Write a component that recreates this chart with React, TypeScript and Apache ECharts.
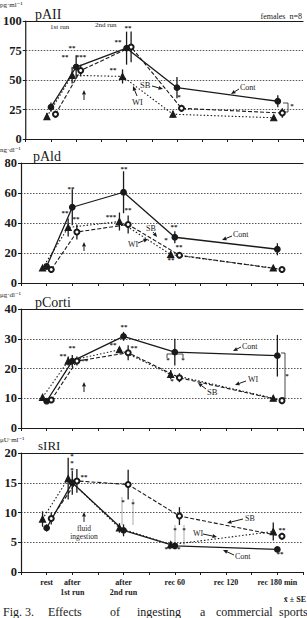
import React, { useEffect, useRef } from "react";
import * as echarts from "echarts";

// time points (x index on the axis): rest, after 1st run, after 2nd run, rec 60, rec 180
const timePoints = [1, 2, 4, 6, 10];
const xTickLabels: Record<number, string> = {
  1: "rest",
  2: "after\n1st run",
  4: "after\n2nd run",
  6: "rec 60",
  8: "rec 120",
  10: "rec 180 min",
};

// pAII (pg·ml-1)
const pAII_Cont = [27, 61, 77, 43.5, 32];
const pAII_Cont_SE = [4, 10, 14, 9, 5];
const pAII_WI = [19, 54, 53, 21, 18];
const pAII_WI_SE = [3, 7, 6, 3, 2];
const pAII_SB = [21, 58, 78, 26, 22];
const pAII_SB_SE = [3, 5, 13, 3, 4];

// pAld (ng·dl-1)
const pAld_Cont = [11, 50.5, 60.5, 30.5, 22.5];
const pAld_Cont_SE = [1.5, 12, 14, 4, 4];
const pAld_WI = [10, 37, 41, 19, 10];
const pAld_WI_SE = [1, 6, 6, 2, 1];
const pAld_SB = [9, 34, 39, 18.5, 9];
const pAld_SB_SE = [1, 5, 6, 2, 1];

// pCorti (µg·dl-1)
const pCorti_Cont = [9, 22.5, 30.8, 25.5, 24.3];
const pCorti_Cont_SE = [0.5, 2, 1.5, 4.5, 7];
const pCorti_WI = [10.3, 22.5, 26.3, 18, 10];
const pCorti_WI_SE = [0.5, 1.5, 1, 1.5, 0.8];
const pCorti_SB = [9.4, 22.5, 25.3, 16.9, 9.2];
const pCorti_SB_SE = [0.5, 1.5, 2.5, 1.5, 0.5];

// sIRI (µU·ml-1)
const sIRI_Cont = [7.4, 15, 7.0, 4.4, 3.8];
const sIRI_Cont_SE = [0.6, 2, 1, 0.5, 0.4];
const sIRI_WI = [8.9, 15.7, 7.4, 4.6, 6.8];
const sIRI_WI_SE = [1.3, 3.5, 0.8, 0.5, 1.5];
const sIRI_SB = [9, 15.3, 14.7, 9.4, 6.0];
const sIRI_SB_SE = [1, 2, 2.5, 1.5, 0.6];

const WI_OFF = -0.16;
const SB_OFF = 0.18;

const panels = [
  { top: 21, height: 118, max: 100, interval: 25, Cont: pAII_Cont, ContSE: pAII_Cont_SE, WI: pAII_WI, WISE: pAII_WI_SE, SB: pAII_SB, SBSE: pAII_SB_SE },
  { top: 163, height: 120, max: 80, interval: 20, Cont: pAld_Cont, ContSE: pAld_Cont_SE, WI: pAld_WI, WISE: pAld_WI_SE, SB: pAld_SB, SBSE: pAld_SB_SE },
  { top: 309, height: 119, max: 40, interval: 10, Cont: pCorti_Cont, ContSE: pCorti_Cont_SE, WI: pCorti_WI, WISE: pCorti_WI_SE, SB: pCorti_SB, SBSE: pCorti_SB_SE },
  { top: 453, height: 119, max: 20, interval: 5, Cont: sIRI_Cont, ContSE: sIRI_Cont_SE, WI: sIRI_WI, WISE: sIRI_WI_SE, SB: sIRI_SB, SBSE: sIRI_SB_SE },
];

const SERIF = "'Liberation Serif', 'DejaVu Serif', serif";
const INK = "#1a1a1a";

function txt(x: number, y: number, s: string, size: number, opts: any = {}) {
  return {
    type: "text",
    x,
    y,
    style: {
      text: s,
      fontFamily: SERIF,
      fontSize: size,
      fontWeight: opts.bold ? "bold" : "normal",
      fill: INK,
      align: opts.align || "left",
      verticalAlign: "middle",
      lineHeight: opts.lineHeight,
    },
  };
}

function arrow(x1: number, y1: number, x2: number, y2: number) {
  const ang = Math.atan2(y2 - y1, x2 - x1);
  const L = 4.5, W = 2;
  const bx = x2 - L * Math.cos(ang), by = y2 - L * Math.sin(ang);
  const px = -Math.sin(ang) * W, py = Math.cos(ang) * W;
  return [
    { type: "line", shape: { x1, y1, x2: bx, y2: by }, style: { stroke: INK, lineWidth: 1 } },
    { type: "polygon", shape: { points: [[x2, y2], [bx + px, by + py], [bx - px, by - py]] }, style: { fill: INK } },
  ];
}

function poly(points: number[][], color = INK, w = 0.8) {
  return { type: "polyline", shape: { points }, style: { stroke: color, lineWidth: w, fill: "none" } };
}

const stars: [number, number, string][] = [
  // pAII
  [72, 48, "**"], [65, 57, "**"], [81, 57, "***"], [128, 28, "**"], [118, 42, "**"], [113, 70, "**"], [179, 97, "*"], [292, 106, "*"],
  // pAld
  [71, 189, "**"], [65, 213, "**"], [76, 219, "**"], [124, 169, "**"], [111, 217, "***"], [128, 210, "**"],
  [174, 227, "**"], [166, 240, "*"], [179, 247, "**"], [171, 260, "**"],
  // pCorti
  [124, 327, "**"], [72, 348, "**"], [63, 356, "**"], [83, 361, "***"], [113, 345, "**"], [134, 348, "**"],
  [168, 360, "*"], [183, 360, "*"], [172, 381, "*"], [287, 376, "*"],
  // sIRI
  [84, 477, "**"], [123, 502, "*"], [133, 504, "*"],
  [175, 530, "*"], [184, 530, "*"], [168, 549, "**"], [177, 549, "**"], [282, 530, "**"], [280, 554, "**"],
];

function buildOption() {
  const grid: any[] = [];
  const xAxis: any[] = [];
  const yAxis: any[] = [];
  const series: any[] = [];

  panels.forEach((p, i) => {
    const last = i === panels.length - 1;
    grid.push({ left: 21, right: 4, top: p.top, height: p.height });
    xAxis.push({
      type: "value",
      gridIndex: i,
      min: 0,
      max: 11,
      interval: 1,
      axisLine: { show: true, lineStyle: { color: INK, width: 1.2 } },
      axisTick: { show: true, length: 3, lineStyle: { color: INK } },
      splitLine: { show: false },
      axisLabel: {
        show: last,
        formatter: (v: number) => xTickLabels[v] || "",
        fontFamily: SERIF,
        fontWeight: "bold",
        fontSize: 8,
        lineHeight: 10,
        color: INK,
        margin: 5,
      },
    });
    yAxis.push({
      type: "value",
      gridIndex: i,
      min: 0,
      max: p.max,
      interval: p.interval,
      axisLine: { show: true, lineStyle: { color: INK, width: 1.2 } },
      axisTick: { show: true, length: 3, lineStyle: { color: INK } },
      axisLabel: { fontFamily: SERIF, fontWeight: "bold", fontSize: 12.5, color: INK, margin: 4 },
      splitLine: { show: true, lineStyle: { color: "#555", type: [1.5, 1.5], width: 1.2 } },
    });
  });
  // top borders
  panels.forEach((p, i) => {
    xAxis.push({
      type: "value",
      gridIndex: i,
      position: "top",
      min: 0,
      max: 11,
      axisLine: { show: true, onZero: false, lineStyle: { color: INK, width: 1.2 } },
      axisTick: { show: false },
      axisLabel: { show: false },
      splitLine: { show: false },
    });
  });

  const errRender = (params: any, api: any) => {
    const x = api.value(0), y = api.value(1), e = api.value(2);
    const a = api.coord([x, y + e]);
    const b = api.coord([x, y - e]);
    return { type: "line", shape: { x1: a[0], y1: a[1], x2: b[0], y2: b[1] }, style: { stroke: INK, lineWidth: 1.3 } };
  };

  panels.forEach((p, i) => {
    const groups = [
      { name: "WI", vals: p.WI, se: p.WISE, off: WI_OFF, symbol: "triangle", size: 6, line: { type: [1.5, 2], width: 1.1 } },
      { name: "SB", vals: p.SB, se: p.SBSE, off: SB_OFF, symbol: "emptyCircle", size: 5, line: { type: [4, 2], width: 1.1 } },
      { name: "Cont", vals: p.Cont, se: p.ContSE, off: 0, symbol: "circle", size: 5.5, line: { type: "solid", width: 1.3 } },
    ];
    groups.forEach((g) => {
      const pts = g.vals.map((v, k) => [timePoints[k] + g.off, v]);
      series.push({
        type: "custom",
        xAxisIndex: i,
        yAxisIndex: i,
        renderItem: errRender,
        data: g.vals.map((v, k) => [timePoints[k] + g.off, v, g.se[k]]),
        encode: { x: 0, y: 1 },
        z: 2,
        clip: false,
        silent: true,
      });
      series.push({
        type: "line",
        name: g.name,
        xAxisIndex: i,
        yAxisIndex: i,
        data: pts,
        symbol: g.symbol,
        symbolSize: g.size,
        showAllSymbol: true,
        lineStyle: { color: INK, width: g.line.width, type: g.line.type },
        itemStyle: { color: INK, borderColor: INK, borderWidth: 1.2 },
        z: 3,
        silent: true,
      });
    });
  });

  const graphic: any[] = [
    // panel titles and units
    txt(0, 5, "pg·ml⁻¹", 7),
    txt(35, 14, "pAII", 14),
    txt(302, 16, "females  n=8", 8, { align: "right" }),
    txt(50, 27, "1st run", 7),
    txt(95, 25, "2nd run", 7),
    txt(0, 150, "ng·dl⁻¹", 7),
    txt(33, 156, "pAld", 14),
    txt(0, 295, "μg·dl⁻¹", 7),
    txt(35, 302, "pCorti", 14),
    txt(0, 440, "μU·ml⁻¹", 7),
    txt(38, 445, "sIRI", 13),
    // series labels
    txt(240, 87, "Cont", 8),
    txt(140, 85, "SB", 8.5),
    txt(132, 102, "WI", 8.5),
    txt(233, 234, "Cont", 8),
    txt(146, 228, "SB", 8),
    txt(128, 244, "WI", 8),
    txt(242, 346, "Cont", 8),
    txt(248, 379, "WI", 8),
    txt(207, 392, "SB", 8.5),
    txt(245, 518, "SB", 8),
    txt(193, 533, "WI", 8),
    txt(235, 556, "Cont", 8),
    // stacked significance marks in sIRI after 1st run
    { type: "text", x: 72, y: 463, style: { text: "*\n*\n*", fontFamily: SERIF, fontSize: 7, fontWeight: "bold", lineHeight: 7, fill: INK, align: "center", verticalAlign: "middle" } },
    // fluid ingestion
    { type: "text", x: 84, y: 532, style: { text: "fluid\ningestion", fontFamily: SERIF, fontSize: 7.5, lineHeight: 8, fill: INK, align: "center", verticalAlign: "middle" } },
    txt(306, 599, "x̄ ± SE", 8, { align: "right", bold: true }),
    // caption
    txt(3, 612, "Fig.", 12),
    txt(25, 612, "3.", 12),
    txt(48, 612, "Effects", 12),
    txt(110, 612, "of", 12),
    txt(137, 612, "ingesting", 12),
    txt(200, 612, "a", 12),
    txt(216, 612, "commercial", 12),
    txt(279, 612, "sports", 12),
    // brackets and guide lines
    poly([[283, 103], [288, 103], [288, 112], [283, 112]]),
    poly([[281, 353], [285, 353], [285, 398], [281, 398]]),
    poly([[167, 358], [167, 354], [183, 354], [183, 358]]),
    poly([[122, 497], [122, 525]], "#888", 0.7),
    poly([[133, 499], [133, 525]], "#888", 0.7),
    poly([[175, 525], [175, 545]], "#888", 0.7),
    poly([[184, 525], [184, 545]], "#888", 0.7),
    ...arrow(239, 89, 231, 94),
    ...arrow(152, 86, 163, 89),
    ...arrow(137, 96, 133, 86),
    ...arrow(84, 100, 84, 90),
    ...arrow(232, 236, 222, 240),
    ...arrow(153, 232, 157, 237),
    ...arrow(138, 243, 148, 239),
    ...arrow(84, 251, 84, 242),
    ...arrow(241, 347, 233, 351),
    ...arrow(246, 381, 235, 385),
    ...arrow(206, 389, 198, 383),
    ...arrow(84, 392, 84, 382),
    ...arrow(243, 519, 227, 523),
    ...arrow(203, 534, 217, 537),
    ...arrow(234, 555, 223, 550),
    ...arrow(84, 522, 84, 512),
    ...stars.map(([x, y, s]) => txt(x, y, s, 7, { align: "center", bold: true })),
  ];

  return {
    animation: false,
    backgroundColor: "#fff",
    grid,
    xAxis,
    yAxis,
    series,
    graphic,
  };
}

export default function App() {
  const ref = useRef<HTMLDivElement>(null);
  useEffect(() => {
    if (!ref.current) return;
    const chart = echarts.init(ref.current, undefined, { renderer: "svg" });
    chart.setOption(buildOption() as any);
    return () => chart.dispose();
  }, []);
  return (
    <div
      ref={ref}
      style={{ position: "absolute", left: 0, top: 0, width: 307, height: 618, background: "#fff" }}
    />
  );
}
